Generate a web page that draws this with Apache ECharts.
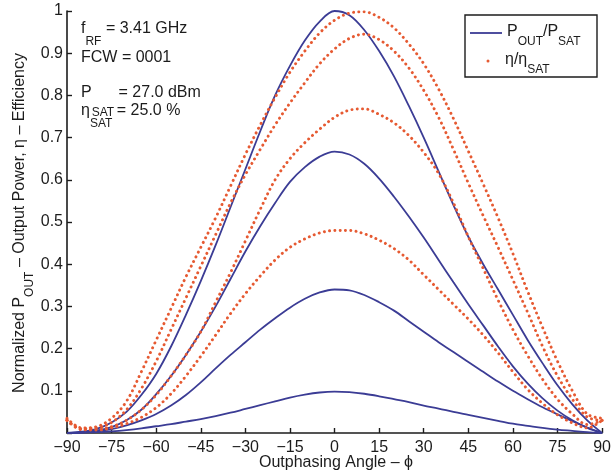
<!DOCTYPE html>
<html>
<head>
<meta charset="utf-8">
<script src="https://cdn.jsdelivr.net/npm/echarts@6/dist/echarts.min.js"></script>
<style>
  html, body { margin: 0; padding: 0; background: #ffffff; }
  #chart { width: 614px; height: 476px; }
</style>
</head>
<body>
<div id="chart"></div>
<script>
// Outphasing angle samples (degrees)
const angles = [-90, -85, -80, -75, -70, -65, -60, -55, -50, -45, -40, -35, -30, -25, -20, -15, -10, -5, 0,
                5, 10, 15, 20, 25, 30, 35, 40, 45, 50, 55, 60, 65, 70, 75, 80, 85, 90];

// Normalized output power Pout/Psat, four drive settings
const poutA = [0, 0.003, 0.01, 0.025, 0.05, 0.09, 0.14, 0.205, 0.28, 0.36, 0.445, 0.535, 0.625, 0.715, 0.80, 0.87, 0.93, 0.975, 1.0,
               0.99, 0.955, 0.905, 0.845, 0.775, 0.70, 0.62, 0.54, 0.465, 0.40, 0.34, 0.28, 0.22, 0.165, 0.113, 0.068, 0.03, 0];
const poutB = [0, 0.002, 0.006, 0.014, 0.03, 0.055, 0.092, 0.135, 0.185, 0.24, 0.30, 0.365, 0.43, 0.49, 0.545, 0.595, 0.63, 0.655, 0.667,
               0.66, 0.638, 0.603, 0.56, 0.513, 0.463, 0.41, 0.357, 0.305, 0.255, 0.205, 0.158, 0.117, 0.082, 0.053, 0.03, 0.012, 0];
const poutC = [0, 0.001, 0.004, 0.009, 0.018, 0.03, 0.045, 0.065, 0.09, 0.12, 0.153, 0.185, 0.215, 0.245, 0.272, 0.297, 0.318, 0.333, 0.34,
               0.338, 0.327, 0.31, 0.29, 0.265, 0.24, 0.215, 0.192, 0.168, 0.145, 0.122, 0.10, 0.08, 0.061, 0.044, 0.028, 0.013, 0];
const poutD = [0, 0.001, 0.002, 0.004, 0.007, 0.011, 0.016, 0.021, 0.027, 0.033, 0.04, 0.048, 0.057, 0.066, 0.075, 0.084, 0.091, 0.096, 0.098,
               0.097, 0.093, 0.087, 0.08, 0.073, 0.065, 0.058, 0.05, 0.043, 0.036, 0.029, 0.022, 0.017, 0.012, 0.008, 0.005, 0.002, 0];

// Normalized drain efficiency eta/eta_sat, same four settings
const effA = [0.035, 0.012, 0.015, 0.035, 0.075, 0.145, 0.22, 0.295, 0.37, 0.44, 0.51, 0.585, 0.66, 0.73, 0.795, 0.855, 0.905, 0.948, 0.978,
              0.995, 0.998, 0.985, 0.96, 0.922, 0.875, 0.815, 0.745, 0.668, 0.59, 0.51, 0.425, 0.335, 0.25, 0.17, 0.10, 0.045, 0.035];
const effB = [0.03, 0.01, 0.012, 0.025, 0.055, 0.105, 0.17, 0.245, 0.32, 0.395, 0.47, 0.545, 0.612, 0.672, 0.73, 0.782, 0.83, 0.875, 0.91,
              0.935, 0.945, 0.932, 0.905, 0.865, 0.812, 0.748, 0.672, 0.592, 0.515, 0.44, 0.363, 0.285, 0.205, 0.135, 0.08, 0.038, 0.03];
const effC = [0.03, 0.008, 0.008, 0.015, 0.03, 0.055, 0.09, 0.135, 0.185, 0.24, 0.31, 0.38, 0.455, 0.53, 0.6, 0.65, 0.688, 0.72, 0.748,
              0.765, 0.768, 0.755, 0.735, 0.705, 0.665, 0.615, 0.545, 0.465, 0.39, 0.315, 0.245, 0.183, 0.127, 0.08, 0.045, 0.02, 0.03];
const effD = [0.03, 0.008, 0.007, 0.012, 0.022, 0.037, 0.06, 0.093, 0.135, 0.182, 0.232, 0.283, 0.33, 0.372, 0.41, 0.44, 0.46, 0.474, 0.48,
              0.48, 0.472, 0.457, 0.437, 0.41, 0.375, 0.34, 0.305, 0.27, 0.232, 0.19, 0.145, 0.103, 0.07, 0.043, 0.024, 0.012, 0.03];

// Axis tick values and their labels
const xTickValues = [-90, -75, -60, -45, -30, -15, 0, 15, 30, 45, 60, 75, 90];
const xTickLabels = ['\u221290', '\u221275', '\u221260', '\u221245', '\u221230', '\u221215', '0', '15', '30', '45', '60', '75', '90'];
const yTickLabels = ['', '0.1', '0.2', '0.3', '0.4', '0.5', '0.6', '0.7', '0.8', '0.9', '1'];

const FONT = '"Liberation Sans", Arial, Helvetica, sans-serif';
const INK = '#1c1c1c';
const BLUE = '#3b3c95';
const ORANGE = '#e65a32';

const pairs = vals => angles.map((a, i) => [a, vals[i]]);

const powerSeries = [poutA, poutB, poutC, poutD].map(vals => ({
  type: 'line', data: pairs(vals), smooth: 0.35, showSymbol: false, silent: true,
  lineStyle: { color: BLUE, width: 1.8 }, z: 2
}));
const effSeries = [effA, effB, effC, effD].map(vals => ({
  type: 'line', data: pairs(vals), smooth: 0.35, showSymbol: false, silent: true, clip: false,
  lineStyle: { color: ORANGE, width: 2.9, type: [0.1, 5.2], cap: 'round' }, z: 3
}));

// rich-text helper: main text + subscript tokens
function richStyle(mainSize, subSize, subDrop) {
  const subLH = subSize;
  const lineH = 2 * (subDrop + subLH / 2);
  return {
    m: { fontSize: mainSize, fontFamily: FONT, lineHeight: lineH, fill: INK },
    s: { fontSize: subSize, fontFamily: FONT, lineHeight: subLH, verticalAlign: 'bottom', fill: INK }
  };
}
function label(x, y, text, mainSize, subSize, subDrop, align, rotation) {
  return {
    type: 'text', x: x, y: y, rotation: rotation || 0, silent: true, z: 10,
    style: {
      text: text, rich: richStyle(mainSize, subSize, subDrop),
      fontSize: mainSize, fontFamily: FONT, fill: INK,
      align: align || 'left', verticalAlign: 'middle'
    }
  };
}

const chart = echarts.init(document.getElementById('chart'), null, { renderer: 'canvas' });
chart.setOption({
  animation: false,
  backgroundColor: '#ffffff',
  textStyle: { fontFamily: FONT },
  grid: { left: 67, right: 8, top: 11, bottom: 43, containLabel: false },
  xAxis: {
    type: 'value', min: -90, max: 90, interval: 15,
    axisLine: { show: true, onZero: false, lineStyle: { color: INK, width: 1.6 } },
    axisTick: { show: true, inside: true, length: 5, lineStyle: { color: INK, width: 1.4 } },
    splitLine: { show: false },
    axisLabel: {
      fontSize: 16, color: INK, fontFamily: FONT, margin: 7, showMinLabel: true, showMaxLabel: true, hideOverlap: false,
      formatter: v => { const i = xTickValues.indexOf(Math.round(v)); return i >= 0 ? xTickLabels[i] : ''; }
    }
  },
  yAxis: {
    type: 'value', min: 0, max: 1, interval: 0.1,
    axisLine: { show: true, onZero: false, lineStyle: { color: INK, width: 1.6 } },
    axisTick: { show: true, inside: true, length: 5, lineStyle: { color: INK, width: 1.4 } },
    splitLine: { show: false },
    axisLabel: {
      fontSize: 16, color: INK, fontFamily: FONT, margin: 4, showMinLabel: true, showMaxLabel: true, hideOverlap: false,
      formatter: v => yTickLabels[Math.round(v * 10)] || ''
    }
  },
  series: powerSeries.concat(effSeries),
  graphic: [
    // operating-point annotations
    label(81, 29, '{m|f}{s|RF}{m| = 3.41 GHz}', 16, 12, 13),
    label(81, 58, '{m|FCW = 0001}', 16, 12, 10),
    label(81, 93, '{m|P}{s|SAT}{m| = 27.0 dBm}', 16, 12, 20),
    label(81, 111, '{m|\u03b7}{s|SAT}{m| = 25.0 %}', 16, 12, 13),
    // legend
    {
      type: 'rect', silent: true, z: 9,
      shape: { x: 465, y: 15, width: 132, height: 62 },
      style: { fill: '#ffffff', stroke: INK, lineWidth: 1.4 }
    },
    {
      type: 'line', silent: true, z: 10,
      shape: { x1: 470, y1: 33, x2: 502, y2: 33 },
      style: { stroke: BLUE, lineWidth: 1.8 }
    },
    {
      type: 'circle', silent: true, z: 10,
      shape: { cx: 488, cy: 61, r: 1.5 },
      style: { fill: ORANGE }
    },
    label(507, 31.5, '{m|P}{s|OUT}{m|/P}{s|SAT}', 16, 12, 10),
    label(505, 59.5, '{m|\u03b7/\u03b7}{s|SAT}', 16, 12, 10),
    // axis titles
    label(20, 223, '{m|Normalized P}{s|OUT}{m| \u2013 Output Power, \u03b7 \u2013 Efficiency}', 16, 12, 10, 'center', Math.PI / 2),
    label(336, 463, '{m|Outphasing Angle \u2013 \u03d5}', 16, 12, 8, 'center')
  ]
});
</script>
</body>
</html>
